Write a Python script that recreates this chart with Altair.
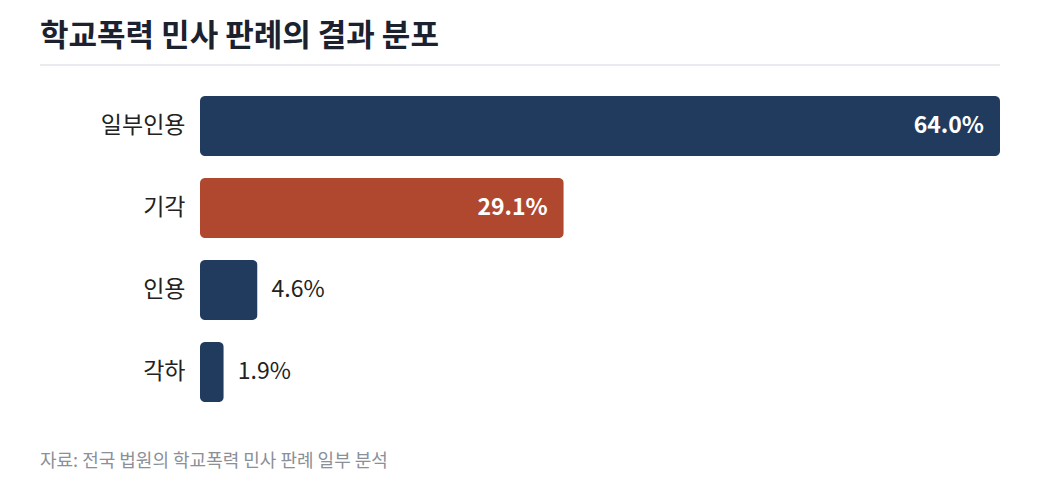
import altair as alt
import pandas as pd

categories = ["일부인용", "기각", "인용", "각하"]
values = [64.0, 29.1, 4.6, 1.9]
colors = ["#213b5e", "#b0482f", "#213b5e", "#213b5e"]
labels = ["64.0%", "29.1%", "4.6%", "1.9%"]
title_text = "학교폭력 민사 판례의 결과 분포"
source_text = "자료: 전국 법원의 학교폭력 민사 판례 일부 분석"

FONT = "Noto Sans CJK KR"

df = pd.DataFrame({
    "category": categories,
    "value": values,
    "color": colors,
    "label": labels,
    "inside": [v > 10 for v in values],
})

x_scale = alt.Scale(domain=[0, 64], nice=False, zero=True)
y_scale = alt.Scale(domain=categories, paddingInner=0.268, paddingOuter=0.134)

base = alt.Chart(df)

bars = base.mark_bar(cornerRadius=5).encode(
    x=alt.X("value:Q", scale=x_scale, axis=None),
    y=alt.Y("category:N", scale=y_scale, sort=categories,
            axis=alt.Axis(title=None, domain=False, ticks=False, grid=False,
                          labelFont=FONT, labelFontSize=23, labelColor="#222222",
                          labelPadding=15, labelFontWeight="normal")),
    color=alt.Color("color:N", scale=None, legend=None),
)

inside_text = base.transform_filter("datum.inside").mark_text(
    align="right", baseline="middle", dx=-16, font=FONT, fontSize=23,
    fontWeight="bold", color="#ffffff"
).encode(
    x=alt.X("value:Q", scale=x_scale),
    y=alt.Y("category:N", scale=y_scale, sort=categories),
    text="label:N",
)

outside_text = base.transform_filter("!datum.inside").mark_text(
    align="left", baseline="middle", dx=14, font=FONT, fontSize=23,
    fontWeight="normal", color="#222222"
).encode(
    x=alt.X("value:Q", scale=x_scale),
    y=alt.Y("category:N", scale=y_scale, sort=categories),
    text="label:N",
)

title_df = pd.DataFrame({"t": [title_text]})
title = alt.Chart(title_df).mark_text(
    align="left", baseline="alphabetic", font=FONT, fontSize=31,
    fontWeight="bold", color="#1c2130"
).encode(x=alt.value(-160), y=alt.value(-39), text="t:N")

rule = alt.Chart(title_df).mark_rule(color="#e3e5e9", strokeWidth=1.5).encode(
    x=alt.value(-160), x2=alt.value(800), y=alt.value(-20)
)

src_df = pd.DataFrame({"t": [source_text]})
source = alt.Chart(src_df).mark_text(
    align="left", baseline="middle", font=FONT, fontSize=18,
    color="#8a8f98"
).encode(x=alt.value(-160), y=alt.value(377), text="t:N")

chart = alt.layer(bars, inside_text, outside_text, title, rule, source).properties(
    width=800, height=328,
    background="#ffffff",
    autosize=alt.AutoSizeParams(type="none"),
    padding={"left": 200, "top": 85, "right": 40, "bottom": 82},
).configure_view(stroke=None, strokeWidth=0)

chart.save("out.html", embed_options={"renderer": "svg", "actions": False})
